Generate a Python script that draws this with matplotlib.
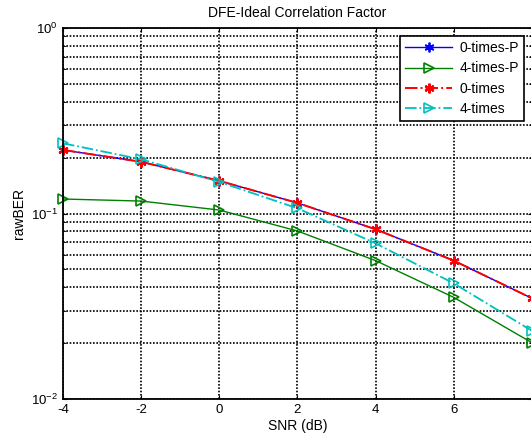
import matplotlib
matplotlib.use("Agg")
from matplotlib import pyplot as plt
from matplotlib.ticker import LogLocator, FixedLocator

plt.rcParams['font.family'] = ['Liberation Sans', 'DejaVu Sans']
plt.rcParams['mathtext.default'] = 'regular'
plt.rcParams['axes.unicode_minus'] = False

# SNR em dB
snr = [-4, -2, 0, 2, 4, 6, 8]
# rótulos do eixo x (o 8 fica na borda)
xticks = [-4, -2, 0, 2, 4, 6]
# rawBER de cada caso
ber_0p = [0.220, 0.190, 0.150, 0.114, 0.0822, 0.0557, 0.0349]
ber_4p = [0.1197, 0.1167, 0.1044, 0.0805, 0.0557, 0.0353, 0.0201]
ber_0 = [0.220, 0.190, 0.150, 0.114, 0.0822, 0.0557, 0.0349]
ber_4 = [0.239, 0.196, 0.148, 0.1067, 0.069, 0.042, 0.0233]

fig = plt.figure(figsize=(5.31, 4.43), dpi=100)
ax = fig.add_axes([0.1186, 0.0993, 0.8832, 0.8375])

ast = (6, 2, 0)  # asterisco
ax.semilogy(snr, ber_0p, '-', marker=ast, color='blue', lw=1, ms=7, mew=1.3,
            label='0-times-P', clip_on=False)
ax.semilogy(snr, ber_4p, '->', color='green', lw=1, ms=7, mfc='none', mew=1.2,
            label='4-times-P', clip_on=False)
ax.semilogy(snr, ber_0, '-.', marker=ast, color='red', lw=1.4, ms=7, mew=1.6,
            label='0-times', clip_on=False)
ax.semilogy(snr, ber_4, '-.>', color='#00c0c0', lw=1.3, ms=7, mfc='none', mew=1.2,
            label='4-times', clip_on=False)

ax.set_xlim(-4, 8)
ax.set_ylim(1e-2, 1e0)
ax.xaxis.set_major_locator(FixedLocator(xticks))
ax.yaxis.set_major_locator(LogLocator(base=10, numticks=10))
ax.yaxis.set_minor_locator(LogLocator(base=10, subs=range(2, 10), numticks=20))
ax.yaxis.set_minor_formatter(plt.NullFormatter())

ax.grid(True, which='both', color='black', linestyle=(0, (1, 1)), linewidth=1.2)
ax.tick_params(direction='in', labelsize=9.5, length=3, top=True, right=True)
ax.tick_params(which='minor', length=2, direction='in', right=True)
for s in ax.spines.values():
    s.set_linewidth(1.3)

ax.set_title('DFE-Ideal Correlation Factor', fontsize=10, pad=8)
ax.set_xlabel('SNR (dB)', fontsize=10, labelpad=2)
ax.set_ylabel('rawBER', fontsize=10, labelpad=4)

leg = ax.legend(loc='upper right', fontsize=10, fancybox=False, framealpha=1,
                edgecolor='black', borderaxespad=0.55, handlelength=3.4,
                handletextpad=0.5, labelspacing=0.45, borderpad=0.4)
leg.get_frame().set_linewidth(1.2)

plt.savefig('out.png', dpi=100)
